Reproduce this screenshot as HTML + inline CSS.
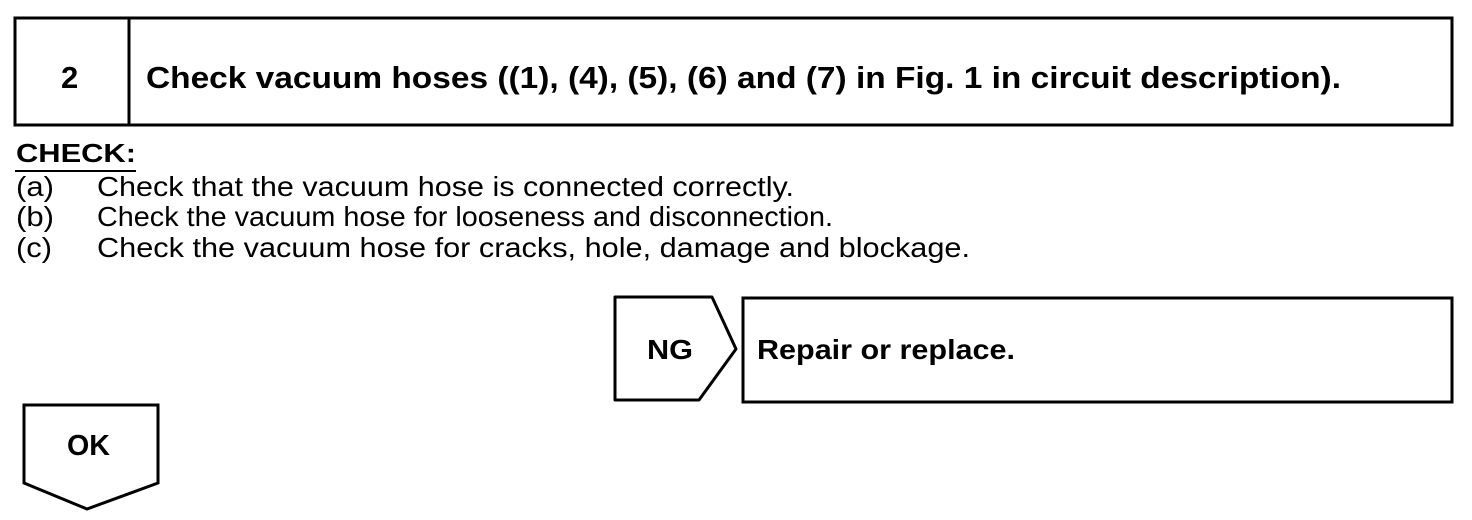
<!DOCTYPE html>
<html><head><style>
html,body{margin:0;padding:0;background:#fff;}
svg{display:block;}
text{font-family:"Liberation Sans",Arial,sans-serif;fill:#000;}
</style></head><body>
<svg width="1472" height="520" viewBox="0 0 1472 520" xmlns="http://www.w3.org/2000/svg">
<g fill="none" stroke="#000" stroke-width="3">
<rect x="15" y="18" width="1437" height="107"/>
<line x1="129" y1="18" x2="129" y2="125"/>
<polygon points="615,297 712,297 736,349 699,400 615,400" stroke-linejoin="round"/>
<rect x="743" y="298" width="709" height="104"/>
<polygon points="24,405 158,405 158,483 87,509 24,483"/>
<line x1="15" y1="171" x2="136" y2="171" stroke-width="2"/>
</g>
<text x="61" y="88" font-size="31" font-weight="bold">2</text>
<text x="146" y="88" font-size="31" font-weight="bold" textLength="1195" lengthAdjust="spacingAndGlyphs">Check vacuum hoses ((1), (4), (5), (6) and (7) in Fig. 1 in circuit description).</text>
<text x="16" y="162" font-size="26" font-weight="bold" textLength="120" lengthAdjust="spacingAndGlyphs">CHECK:</text>
<text x="16" y="196" font-size="28" textLength="38" lengthAdjust="spacingAndGlyphs">(a)</text>
<text x="97" y="196" font-size="28" textLength="697" lengthAdjust="spacingAndGlyphs">Check that the vacuum hose is connected correctly.</text>
<text x="16" y="226" font-size="28" textLength="38" lengthAdjust="spacingAndGlyphs">(b)</text>
<text x="97" y="226" font-size="28" textLength="736" lengthAdjust="spacingAndGlyphs">Check the vacuum hose for looseness and disconnection.</text>
<text x="16" y="257" font-size="28" textLength="36" lengthAdjust="spacingAndGlyphs">(c)</text>
<text x="97" y="257" font-size="28" textLength="873" lengthAdjust="spacingAndGlyphs">Check the vacuum hose for cracks, hole, damage and blockage.</text>
<text x="647" y="359" font-size="28" font-weight="bold" textLength="46" lengthAdjust="spacingAndGlyphs">NG</text>
<text x="757" y="359" font-size="28" font-weight="bold" textLength="258" lengthAdjust="spacingAndGlyphs">Repair or replace.</text>
<text x="67" y="455" font-size="29" font-weight="bold" textLength="43" lengthAdjust="spacingAndGlyphs">OK</text>
</svg>
</body></html>
